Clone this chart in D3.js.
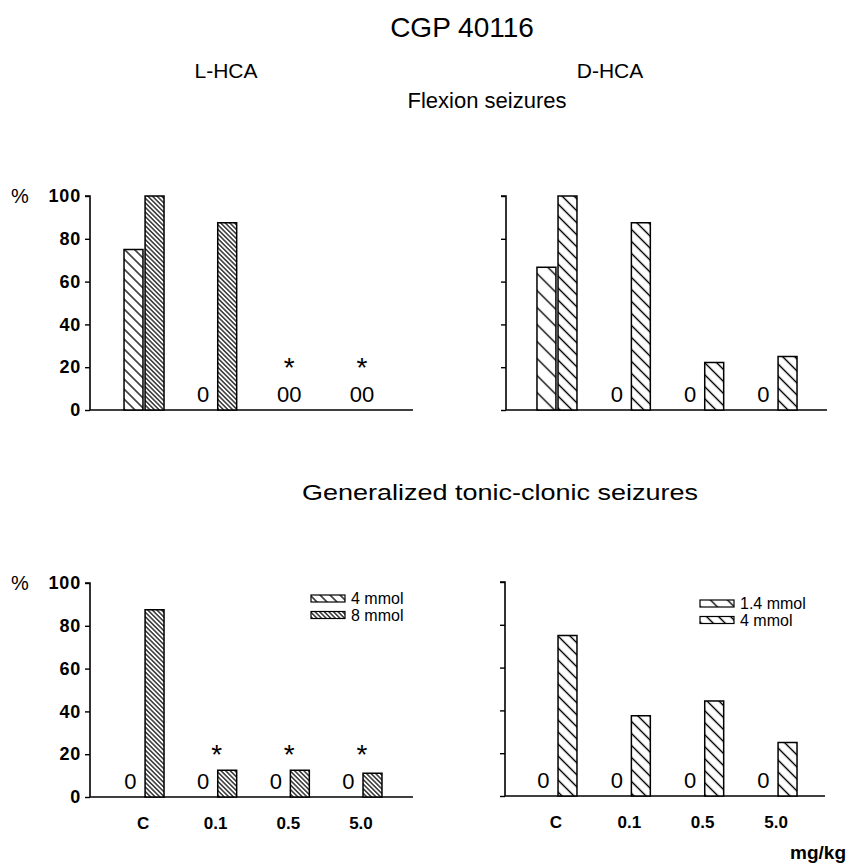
<!DOCTYPE html>
<html><head><meta charset="utf-8">
<script src="https://cdn.jsdelivr.net/npm/d3@7"></script>
<style>body{margin:0;background:#fff}svg{display:block}</style>
</head><body>
<script>
// ---- data ----
const categories = ["C", "0.1", "0.5", "5.0"];
const yTicks = [0, 20, 40, 60, 80, 100];
// Flexion seizures (%)
const flexL4  = [75, 0, 0, 0];
const flexL8  = [100, 87.5, 0, 0];
const flexD14 = [66.7, 0, 0, 0];
const flexD4  = [100, 87.5, 22.2, 25];
// Generalized tonic-clonic seizures (%)
const gtcL4  = [0, 0, 0, 0];
const gtcL8  = [87.5, 12.5, 12.5, 11.1];
const gtcD14 = [0, 0, 0, 0];
const gtcD4  = [75, 37.5, 44.4, 25];
// significance markers
const sigFlexL = [false, false, true, true];
const sigFlexD = [false, false, false, false];
const sigGtcL  = [false, true, true, true];
const sigGtcD  = [false, false, false, false];
const legendL = ["4 mmol", "8 mmol"];
const legendD = ["1.4 mmol", "4 mmol"];

const W = 848, H = 866;
const FONT = "'Liberation Sans', Arial, Helvetica, sans-serif";
const svg = d3.select("body").append("svg").attr("width", W).attr("height", H)
  .style("font-family", FONT);

// ---- hatch patterns ----
const defs = svg.append("defs");
function hatch(id, vSpacing, sw) {
  const p = vSpacing / Math.SQRT2;
  const pat = defs.append("pattern").attr("id", id)
    .attr("patternUnits", "userSpaceOnUse")
    .attr("width", 20).attr("height", p)
    .attr("patternTransform", "rotate(45)");
  pat.append("rect").attr("width", 20).attr("height", p).attr("fill", "#fff");
  pat.append("line").attr("x1", 0).attr("x2", 20).attr("y1", p / 2).attr("y2", p / 2)
    .attr("stroke", "#000").attr("stroke-width", sw);
}
hatch("pL4", 10, 1.3);
hatch("pL8", 4.6, 1.2);
hatch("pD14", 17, 1.4);
hatch("pD4", 12, 1.4);

// ---- titles ----
function txt(x, y, s, size, opts = {}) {
  return svg.append("text").attr("x", x).attr("y", y).attr("text-anchor", opts.anchor || "middle")
    .attr("font-size", size).attr("font-weight", opts.bold ? "bold" : "normal").text(s);
}
txt(462, 37, "CGP 40116", 28);
txt(226, 78, "L-HCA", 21);
txt(610, 78, "D-HCA", 21);
txt(487, 108, "Flexion seizures", 22);
txt(302, 500, "Generalized tonic-clonic seizures", 22, {anchor: "start"})
  .attr("textLength", 396).attr("lengthAdjust", "spacingAndGlyphs");

// ---- panels ----
const panels = [
  {ax: 90,  xEnd: 413, yTop: 196, yBot: 410, band: [107.7, 398.3], s1: flexL4,  s2: flexL8,  p1: "pL4",  p2: "pL8",  sig: sigFlexL, yLabels: true,  cats: false},
  {ax: 506, xEnd: 827, yTop: 196, yBot: 410, band: [520.3, 813.7], s1: flexD14, s2: flexD4,  p1: "pD14", p2: "pD4",  sig: sigFlexD, yLabels: false, cats: false},
  {ax: 90,  xEnd: 413, yTop: 583, yBot: 797, band: [107.7, 398.3], s1: gtcL4,   s2: gtcL8,   p1: "pL4",  p2: "pL8",  sig: sigGtcL,  yLabels: true,  cats: true, legend: legendL, lx: 311, ly: 599},
  {ax: 505, xEnd: 825, yTop: 582, yBot: 796, band: [520.3, 813.7], s1: gtcD14,  s2: gtcD4,   p1: "pD14", p2: "pD4",  sig: sigGtcD,  yLabels: false, cats: true, legend: legendD, lx: 700, ly: 604}
];

panels.forEach(P => {
  const g = svg.append("g");
  const y = d3.scaleLinear().domain([0, 100]).range([P.yBot, P.yTop]);
  const x0 = d3.scaleBand().domain(categories).range(P.band);
  const x1 = d3.scaleBand().domain([0, 1]).range([-20, 20]).paddingInner(0.1);

  // y axis
  const yAxis = d3.axisLeft(y).tickValues(yTicks).tickSize(5).tickPadding(4)
    .tickFormat(P.yLabels ? d3.format("d") : () => "");
  const ya = g.append("g").attr("transform", `translate(${P.ax},0)`).call(yAxis);
  ya.select(".domain").attr("d", `M-5,${P.yTop}H0V${P.yBot}`).attr("stroke-width", 1.6);
  ya.selectAll(".tick line").attr("stroke-width", 1.4);
  ya.selectAll(".tick text").attr("font-size", 18).attr("font-weight", "bold")
    .attr("font-family", FONT).attr("fill", "#000").attr("letter-spacing", 0.8);
  if (P.yLabels) {
    g.append("text").attr("x", 11).attr("y", P.yTop + 7).attr("font-size", 20).text("%");
  }
  // x axis line
  g.append("line").attr("x1", P.ax).attr("x2", P.xEnd).attr("y1", P.yBot).attr("y2", P.yBot)
    .attr("stroke", "#000").attr("stroke-width", 1.6);

  const rows = categories.map((c, i) => ({c, i, v: [P.s1[i], P.s2[i]]}));
  rows.forEach(r => {
    const cx = x0(r.c) + x0.bandwidth() / 2;
    r.v.forEach((v, k) => {
      if (v > 0) {
        g.append("rect").attr("x", cx + x1(k)).attr("width", x1.bandwidth())
          .attr("y", y(v)).attr("height", y(0) - y(v))
          .attr("fill", `url(#${k === 0 ? P.p1 : P.p2})`)
          .attr("stroke", "#000").attr("stroke-width", 1.5);
      }
    });
    if (r.v[0] === 0 && r.v[1] === 0) {
      g.append("text").attr("x", cx).attr("y", y(0) - 8).attr("text-anchor", "middle")
        .attr("font-size", 22).text("00");
    } else {
      r.v.forEach((v, k) => {
        if (v === 0) {
          g.append("text").attr("x", cx + x1(k) + x1.bandwidth() / 2 - 3).attr("y", y(0) - 8)
            .attr("text-anchor", "middle").attr("font-size", 22).text("0");
        }
      });
    }
    if (P.sig[r.i]) {
      g.append("text").attr("x", cx).attr("y", y(23) + 16).attr("text-anchor", "middle")
        .attr("font-size", 28).text("*");
    }
    if (P.cats) {
      g.append("text").attr("x", cx - 1).attr("y", P.yBot + 32).attr("text-anchor", "middle")
        .attr("font-size", 17).attr("font-weight", "bold").text(r.c);
    }
  });

  if (P.legend) {
    P.legend.forEach((lab, k) => {
      const yy = P.ly + k * 16.5;
      g.append("rect").attr("x", P.lx).attr("y", yy - 4).attr("width", 34).attr("height", 7)
        .attr("fill", `url(#${k === 0 ? P.p1 : P.p2})`).attr("stroke", "#000").attr("stroke-width", 1.2);
      g.append("text").attr("x", P.lx + 40).attr("y", yy + 5).attr("font-size", 16).text(lab);
    });
  }
});

txt(846, 859, "mg/kg", 19, {anchor: "end", bold: true});
</script>
</body></html>
